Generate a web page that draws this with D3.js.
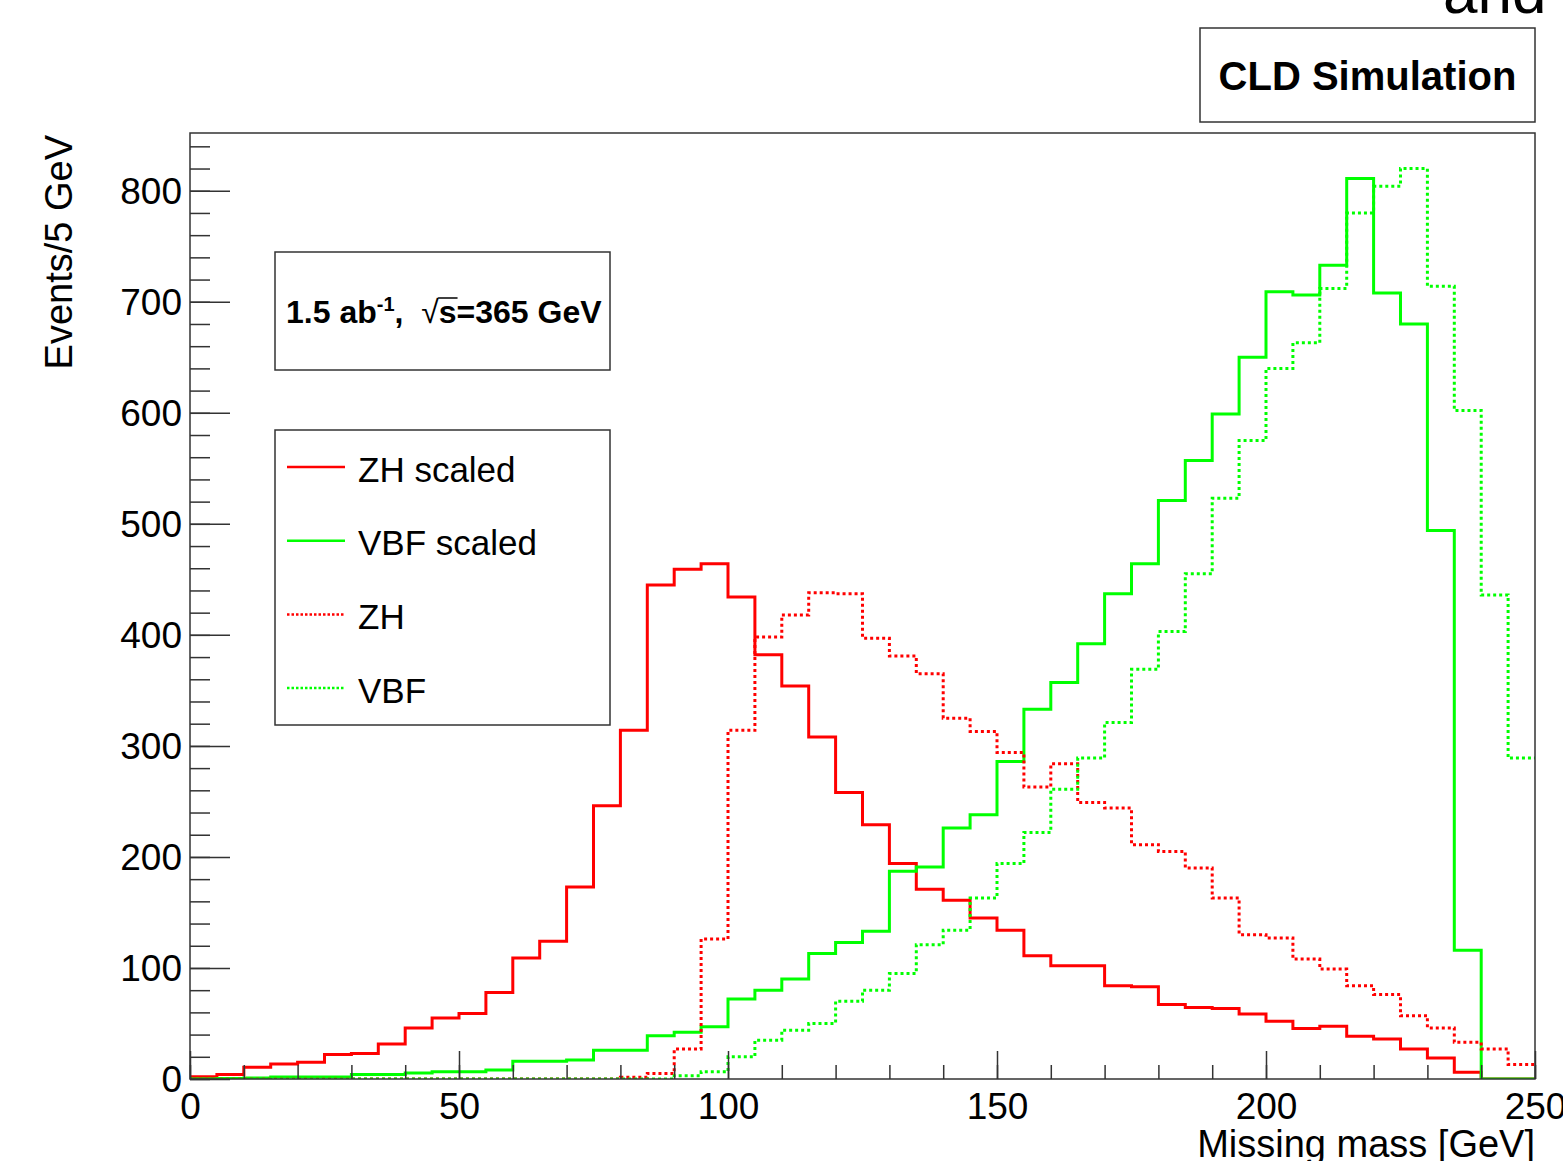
<!DOCTYPE html>
<html lang="en-US">
<head>
    <title>Missing mass</title>
    <meta charset="utf-8">
    <script src="https://cdn.jsdelivr.net/npm/d3@7"></script>
    <style>
        body { margin: 0; background: #fff; }
        svg { display: block; font-family: 'Liberation Sans', Arial, Helvetica, sans-serif; }
    </style>
</head>
<body>
    <svg></svg>
</body>
<script>

    // 5 GeV bins from 0 to 250 GeV (lower edges)
    const binWidth = 5;
    const binLow = d3.range(0, 250, binWidth);

    const zhScaled = [
        2, 4, 10.5, 13.5, 15, 22, 23, 31.5, 46, 55,
        59, 78, 109, 124, 173, 246, 314, 445, 459, 464,
        434, 382, 354, 308, 258, 229, 194, 171, 161, 145,
        134, 111, 102, 102, 84, 83, 67, 64.5, 63.5, 58.5,
        52, 45.5, 47.5, 38.5, 36, 27, 19, 6, 0, 0
    ];
    const vbfScaled = [
        0, 0.5, 1, 1.7, 1.7, 1.7, 4, 4, 5.4, 6.6,
        6.6, 8, 16, 16, 17, 26, 26, 39, 42, 47,
        72, 80, 90, 113, 123, 133, 187, 191, 226, 238,
        286, 333, 357, 392, 437, 464, 521, 557, 599, 650,
        709, 706, 733, 811, 708, 680, 494, 116, 0, 0
    ];
    const zh = [
        0, 0, 0, 0, 0, 0, 0, 0, 0, 0,
        0, 0, 0, 0, 0, 0, 1.5, 5, 27, 126,
        314, 398, 418, 438, 437, 397, 381, 365, 325, 313,
        294, 263, 284, 249, 244, 211, 205, 190, 163, 130,
        127, 108, 99, 84, 76, 57, 46, 33, 27, 13
    ];
    const vbf = [
        0, 0, 0, 0, 0, 0, 0, 0, 0, 0,
        0, 0, 0, 0, 0, 0, 0, 0, 3, 6.5,
        20, 35, 44, 50, 70, 80, 95, 121, 134, 163,
        194, 222, 261, 289, 321, 369, 403, 455, 523, 575,
        640, 663, 712, 780, 804, 820, 714, 602, 436, 289
    ];

    const seriesNames = ['ZH scaled', 'VBF scaled', 'ZH', 'VBF'];
    const seriesColors = ['#ff0000', '#00ff00', '#ff0000', '#00ff00'];
    const seriesDashed = [false, false, true, true];
    const seriesValues = [zhScaled, vbfScaled, zh, vbf];

    const xMajorTicks = [0, 50, 100, 150, 200, 250];
    const yMajorTicks = [0, 100, 200, 300, 400, 500, 600, 700, 800];

    let opt = {
        width: 1563,
        height: 1161,
        font: "'Liberation Sans', Arial, Helvetica, sans-serif",
        frame: { left: 190, top: 133, right: 1535, bottom: 1079 },
        y_max: 852,
        axis_color: '#333'
    };

    let svg = d3.select('svg')
        .attr('width', opt.width)
        .attr('height', opt.height);

    let f = opt.frame;
    let xScale = d3.scaleLinear().domain([0, 250]).range([f.left, f.right]);
    let yScale = d3.scaleLinear().domain([0, opt.y_max]).range([f.bottom, f.top]);

    // clip for histograms
    svg.append('clipPath').attr('id', 'plot-clip')
        .append('rect')
        .attr('x', f.left).attr('y', f.top)
        .attr('width', f.right - f.left).attr('height', f.bottom - f.top);

    // Histograms
    let step = d3.line()
        .x(d => xScale(d[0]))
        .y(d => yScale(d[1]))
        .curve(d3.curveStepAfter);

    let hists = svg.append('g').attr('clip-path', 'url(#plot-clip)');
    seriesValues.forEach((vals, k) => {
        let pts = binLow.map((b, i) => [b, vals[i]]);
        pts.push([binLow[binLow.length - 1] + binWidth, vals[vals.length - 1]]);
        hists.append('path')
            .datum(pts)
            .attr('d', step)
            .style('fill', 'none')
            .style('stroke', seriesColors[k])
            .style('stroke-width', 3)
            .style('stroke-dasharray', seriesDashed[k] ? '3,3' : null);
    });

    // Frame
    svg.append('rect')
        .attr('x', f.left).attr('y', f.top)
        .attr('width', f.right - f.left).attr('height', f.bottom - f.top)
        .style('fill', 'none')
        .style('stroke', opt.axis_color)
        .style('stroke-width', 1.5);

    // Y axis: major + minor ticks pointing inward
    let yMinor = svg.append('g')
        .attr('transform', `translate(${f.left},0)`)
        .call(d3.axisLeft(yScale).tickValues(d3.range(0, opt.y_max, 20)).tickSize(-20).tickFormat(''));
    let yMajor = svg.append('g')
        .attr('transform', `translate(${f.left},0)`)
        .call(d3.axisLeft(yScale).tickValues(yMajorTicks).tickSize(-40).tickPadding(8));

    // X axis
    let xMinor = svg.append('g')
        .attr('transform', `translate(0,${f.bottom})`)
        .call(d3.axisBottom(xScale).tickValues(d3.range(0, 251, 10)).tickSize(-14).tickFormat(''));
    let xMajor = svg.append('g')
        .attr('transform', `translate(0,${f.bottom})`)
        .call(d3.axisBottom(xScale).tickValues(xMajorTicks).tickSize(-28).tickPadding(12));

    [yMinor, yMajor, xMinor, xMajor].forEach(a => {
        a.select('.domain').remove();
        a.selectAll('line').style('stroke', opt.axis_color).style('stroke-width', 1.5);
        a.selectAll('text')
            .style('font-family', opt.font)
            .style('font-size', '37px')
            .style('fill', '#000');
    });
    yMajor.selectAll('text').attr('dy', '0.35em');
    xMajor.selectAll('text').attr('y', 40).attr('dy', 0);

    // Axis titles
    svg.append('text')
        .attr('x', f.right)
        .attr('y', 1157)
        .attr('text-anchor', 'end')
        .style('font-family', opt.font)
        .style('font-size', '38px')
        .text('Missing mass [GeV]');

    svg.append('text')
        .attr('transform', `translate(72,${f.top + 2})rotate(-90)`)
        .attr('text-anchor', 'end')
        .style('font-family', opt.font)
        .style('font-size', '38px')
        .text('Events/5 GeV');

    // Cut-off title at the top right
    svg.append('text')
        .attr('x', 1443)
        .attr('y', 13)
        .style('font-family', opt.font)
        .style('font-size', '62px')
        .text('and');

    // CLD Simulation box
    svg.append('rect')
        .attr('x', 1200).attr('y', 28).attr('width', 335).attr('height', 94)
        .style('fill', '#fff').style('stroke', opt.axis_color).style('stroke-width', 1.5);
    svg.append('text')
        .attr('x', 1367.5).attr('y', 90)
        .attr('text-anchor', 'middle')
        .style('font-family', opt.font)
        .style('font-size', '40px')
        .style('font-weight', 'bold')
        .text('CLD Simulation');

    // Luminosity / energy box
    svg.append('rect')
        .attr('x', 275).attr('y', 252).attr('width', 335).attr('height', 118)
        .style('fill', '#fff').style('stroke', opt.axis_color).style('stroke-width', 1.5);

    let lumi = svg.append('text')
        .attr('x', 286).attr('y', 323)
        .style('font-family', opt.font)
        .style('font-size', '32px')
        .style('font-weight', 'bold');
    lumi.append('tspan').text('1.5 ab');
    lumi.append('tspan').attr('dy', -12).style('font-size', '20px').text('-1');
    lumi.append('tspan').attr('dy', 12).text(',\u00a0\u00a0');
    lumi.append('tspan').attr('id', 'sqrt-sign').style('font-weight', 'normal').text('\u221a');
    lumi.append('tspan').attr('id', 'sqrt-arg').text('s');
    lumi.append('tspan').text('=365 GeV');

    // overline of the square root
    let sbox = document.getElementById('sqrt-arg').getBBox();
    let rbox = document.getElementById('sqrt-sign').getBBox();
    svg.append('line')
        .attr('x1', rbox.x + rbox.width - 1).attr('x2', sbox.x + sbox.width + 1)
        .attr('y1', rbox.y + 4).attr('y2', rbox.y + 4)
        .style('stroke', '#000').style('stroke-width', 1.5);

    // Legend
    svg.append('rect')
        .attr('x', 275).attr('y', 430).attr('width', 335).attr('height', 295)
        .style('fill', '#fff').style('stroke', opt.axis_color).style('stroke-width', 1.5);

    let legend = svg.append('g');
    seriesNames.forEach((name, k) => {
        let ly = 467 + k * 73.7;
        legend.append('line')
            .attr('x1', 287).attr('x2', 345)
            .attr('y1', ly).attr('y2', ly)
            .style('stroke', seriesColors[k])
            .style('stroke-width', 2.5)
            .style('stroke-dasharray', seriesDashed[k] ? '2.5,2' : null);
        legend.append('text')
            .attr('x', 358).attr('y', ly + 2)
            .attr('dy', '0.36em')
            .style('font-family', opt.font)
            .style('font-size', '35px')
            .text(name);
    });

</script>
</html>
